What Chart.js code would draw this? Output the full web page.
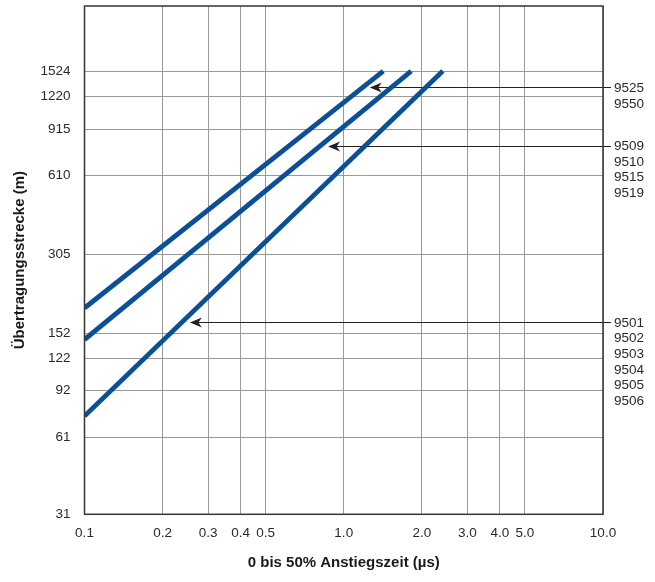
<!DOCTYPE html>
<html lang="de">
<head>
<meta charset="utf-8">
<title>Übertragungsstrecke über Anstiegszeit</title>
<script src="https://cdn.jsdelivr.net/npm/chart.js@4/dist/chart.umd.min.js"></script>
<style>
  html, body { margin: 0; padding: 0; background: #fff; }
  #wrap { width: 655px; height: 582px; position: relative; }
</style>
</head>
<body>
<div id="wrap"><canvas id="chart"></canvas></div>
<script>
// Achsenraster (log-log)
const riseTimeTicks = [0.1, 0.2, 0.3, 0.4, 0.5, 1.0, 2.0, 3.0, 4.0, 5.0, 10.0];
const distanceTicks = [31, 61, 92, 122, 152, 305, 610, 915, 1220, 1524];

// Kennlinien: Anfangs- und Endpunkt je Gruppe (Zeit in µs, Strecke in m)
const timeFast = [0.1, 1.42];
const distFast = [190, 1524];
const timeMid = [0.1, 1.82];
const distMid = [144, 1524];
const timeSlow = [0.1, 2.41];
const distSlow = [73.5, 1524];

// Pfeile mit Typenbezeichnungen
const arrowDistance = [1320, 792, 168];
const arrowTipTime = [1.26, 0.87, 0.255];
const modelGroups = [
  ["9525", "9550"],
  ["9509", "9510", "9515", "9519"],
  ["9501", "9502", "9503", "9504", "9505", "9506"]
];

const FONT = "'Liberation Sans', Arial, sans-serif";
const lineBlue = "#0a4f98";

function toPoints(xs, ys) {
  return xs.map((x, i) => ({ x, y: ys[i] }));
}

function lineSet(xs, ys) {
  return {
    data: toPoints(xs, ys),
    borderColor: lineBlue,
    borderWidth: 4.8,
    pointRadius: 0,
    borderCapStyle: "butt",
    clip: 0
  };
}

// Rahmen, Pfeile und Typenliste rechts
const framePlugin = {
  id: "frame",
  beforeDatasetsDraw(chart) {
    const { ctx, chartArea, scales } = chart;
    ctx.save();
    ctx.strokeStyle = "#222";
    ctx.fillStyle = "#222";
    ctx.lineWidth = 1.2;
    arrowDistance.forEach((d, i) => {
      const y = Math.round(scales.y.getPixelForValue(d)) + 0.5;
      const tip = scales.x.getPixelForValue(arrowTipTime[i]);
      ctx.beginPath();
      ctx.moveTo(tip + 6, y);
      ctx.lineTo(chartArea.right + 8, y);
      ctx.stroke();
      ctx.beginPath();
      ctx.moveTo(tip, y);
      ctx.lineTo(tip + 12, y - 5);
      ctx.lineTo(tip + 8.5, y);
      ctx.lineTo(tip + 12, y + 5);
      ctx.closePath();
      ctx.fill();
    });
    ctx.restore();
  },
  afterDatasetsDraw(chart) {
    const { ctx, chartArea, scales } = chart;
    ctx.save();
    ctx.strokeStyle = "#333";
    ctx.lineWidth = 1.5;
    ctx.strokeRect(chartArea.left, chartArea.top, chartArea.right - chartArea.left, chartArea.bottom - chartArea.top);
    ctx.fillStyle = "#2a2a2a";
    ctx.font = "13.5px " + FONT;
    ctx.textAlign = "left";
    ctx.textBaseline = "middle";
    modelGroups.forEach((group, i) => {
      const y = scales.y.getPixelForValue(arrowDistance[i]);
      group.forEach((name, k) => {
        ctx.fillText(name, chartArea.right + 11, y + 1 + k * 15.6);
      });
    });
    ctx.restore();
  }
};

new Chart(document.getElementById("chart"), {
  type: "line",
  data: {
    datasets: [
      lineSet(timeFast, distFast),
      lineSet(timeMid, distMid),
      lineSet(timeSlow, distSlow)
    ]
  },
  options: {
    responsive: true,
    maintainAspectRatio: false,
    animation: false,
    layout: { padding: { left: 0, top: 6, right: 52, bottom: 0 } },
    plugins: {
      legend: { display: false },
      tooltip: { enabled: false }
    },
    scales: {
      x: {
        type: "logarithmic",
        min: 0.1,
        max: 10,
        afterBuildTicks(scale) {
          scale.ticks = riseTimeTicks.map((v) => ({ value: v }));
        },
        afterFit(scale) {
          scale.height = 67.7;
          scale.paddingLeft = 0;
          scale.paddingRight = 0;
        },
        ticks: {
          color: "#2a2a2a",
          font: { family: FONT, size: 13.5 },
          padding: 11,
          maxRotation: 0,
          autoSkip: false,
          callback(value) {
            return Number(value).toFixed(1);
          }
        },
        grid: { color: "#999", lineWidth: 1, drawTicks: false },
        border: { display: false },
        title: {
          display: true,
          text: "0 bis 50% Anstiegszeit (µs)",
          color: "#1a1a1a",
          font: { family: FONT, size: 15, weight: "bold" },
          padding: { top: 0, bottom: 10 }
        }
      },
      y: {
        type: "logarithmic",
        min: 31,
        max: 2700,
        afterBuildTicks(scale) {
          scale.ticks = distanceTicks.map((v) => ({ value: v }));
        },
        afterFit(scale) {
          scale.width = 84.5;
          scale.paddingTop = 0;
          scale.paddingBottom = 0;
        },
        ticks: {
          color: "#2a2a2a",
          font: { family: FONT, size: 13.5 },
          padding: 14,
          autoSkip: false,
          callback(value) {
            return String(value);
          }
        },
        grid: { color: "#999", lineWidth: 1, drawTicks: false },
        border: { display: false },
        title: {
          display: true,
          text: "Übertragungsstrecke (m)",
          color: "#1a1a1a",
          font: { family: FONT, size: 15, weight: "bold" },
          padding: { top: 11, bottom: 0 }
        }
      }
    }
  },
  plugins: [framePlugin]
});
</script>
</body>
</html>
